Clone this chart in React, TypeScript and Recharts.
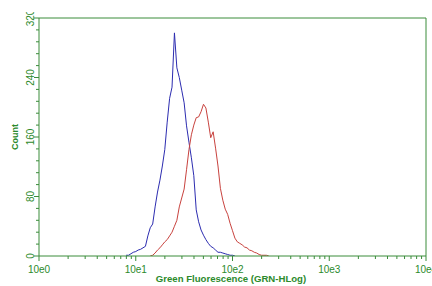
import { LineChart, Line, XAxis, YAxis, ReferenceLine, Label } from "recharts";

// histogram channels: 40 channels per decade, x = channel / 40 (log10 units)
const CHANNELS_PER_DECADE = 40;

const blueStart = 36;
const blueCounts = [
  1, 1, 3, 5, 6, 8, 9, 11, 13, 27, 38, 43, 66, 86, 102, 121, 143, 180, 212, 227,
  300, 253, 240, 223, 206, 175, 153, 132, 108, 62, 46, 35, 28, 22, 17, 13, 11, 8, 5, 5,
  4, 3, 2, 1, 1, 0,
];

const redStart = 46;
const redCounts = [
  0, 1, 4, 8, 11, 15, 19, 22, 27, 32, 40, 48, 66, 78, 90, 116, 143, 163, 176, 186,
  187, 194, 204, 199, 180, 159, 167, 145, 121, 91, 75, 63, 56, 44, 34, 24, 19, 17, 15, 12,
  11, 8, 7, 5, 4, 2, 1, 1, 1, 0,
];

const decades = [0, 1, 2, 3, 4];
const minorMultipliers = [2, 3, 4, 5, 6, 7, 8, 9];
const yMajor = [0, 80, 160, 240, 320];
const yStep = 16;

const GREEN = "#3a8c3a";
const TEXT_GREEN = "#2c8a2c";
const FONT = "Arial, 'Liberation Sans', sans-serif";

const toSeries = (start: number, counts: number[]) =>
  counts.map((c, i) => ({ x: (start + i) / CHANNELS_PER_DECADE, count: c }));

const blueData = toSeries(blueStart, blueCounts);
const redData = toSeries(redStart, redCounts);

const xTicks: number[] = [];
decades.forEach((d) => {
  xTicks.push(d);
  if (d < 4) minorMultipliers.forEach((m) => xTicks.push(d + Math.log10(m)));
});
const yTicks: number[] = [];
for (let v = 0; v <= 320; v += yStep) yTicks.push(v);

function XTick(props: any) {
  const { x, y, payload } = props;
  const major = Number.isInteger(payload.value);
  return (
    <g>
      <line x1={x} x2={x} y1={y} y2={y + (major ? 5 : 3)} stroke={GREEN} />
      {major && (
        <text x={x} y={y + 13.5} textAnchor="middle" dominantBaseline="central" fontSize={10} fill={TEXT_GREEN} fontFamily={FONT}>
          {`10e${payload.value}`}
        </text>
      )}
    </g>
  );
}

function YTick(props: any) {
  const { x, y, payload } = props;
  const major = yMajor.includes(payload.value);
  return (
    <g>
      <line x1={x} x2={x - (major ? 5 : 3)} y1={y} y2={y} stroke={GREEN} />
      {major && (
        <text x={30} y={y} transform={`rotate(-90 30 ${y})`} textAnchor="middle" dominantBaseline="central" fontSize={10} fill={TEXT_GREEN} fontFamily={FONT}>
          {payload.value}
        </text>
      )}
    </g>
  );
}

export default function App() {
  return (
    <div style={{ position: "absolute", left: 0, top: 0, width: 432, height: 286, overflow: "hidden", background: "#fff" }}>
      <div style={{ position: "absolute", left: 0, top: 12 }}>
        <LineChart width={432} height={274} margin={{ top: 6, right: 6, bottom: 0, left: 0 }}>
          <XAxis
            type="number"
            dataKey="x"
            domain={[0, 4]}
            ticks={xTicks}
            interval={0}
            allowDataOverflow
            height={30}
            tickSize={0}
            tickMargin={0}
            tickLine={false}
            axisLine={{ stroke: GREEN }}
            tick={<XTick />}
          >
            <Label
              content={() => (
                <text x={231} y={266.5} textAnchor="middle" dominantBaseline="central" fontSize={9.6} fontWeight="bold" fill={TEXT_GREEN} fontFamily={FONT}>
                  Green Fluorescence (GRN-HLog)
                </text>
              )}
            />
          </XAxis>
          <YAxis
            type="number"
            domain={[0, 320]}
            ticks={yTicks}
            interval={0}
            allowDataOverflow
            width={39}
            tickSize={0}
            tickMargin={0}
            tickLine={false}
            axisLine={{ stroke: GREEN }}
            tick={<YTick />}
          >
            <Label
              content={() => (
                <text x={15} y={125} transform="rotate(-90 15 125)" textAnchor="middle" dominantBaseline="central" fontSize={9} fontWeight="bold" fill={TEXT_GREEN} fontFamily={FONT}>
                  Count
                </text>
              )}
            />
          </YAxis>
          <ReferenceLine y={320} stroke={GREEN} />
          <ReferenceLine x={4} stroke={GREEN} />
          <Line data={blueData} dataKey="count" type="linear" stroke="#2c2cb0" strokeWidth={1} dot={false} isAnimationActive={false} />
          <Line data={redData} dataKey="count" type="linear" stroke="#c8423e" strokeWidth={1} dot={false} isAnimationActive={false} />
        </LineChart>
      </div>
    </div>
  );
}
